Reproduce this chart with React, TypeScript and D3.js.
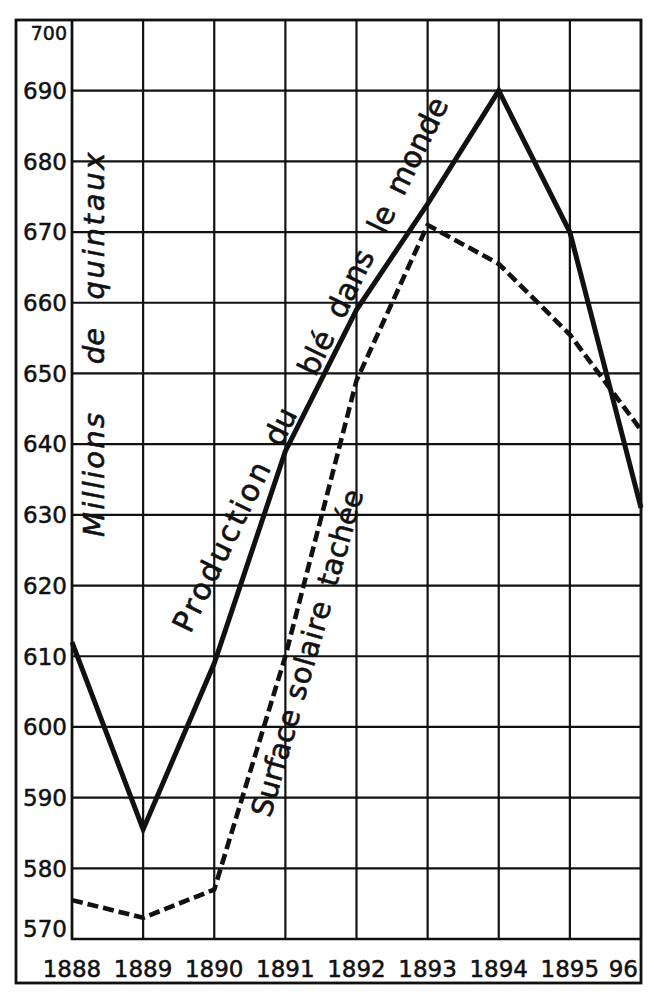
import { useRef, useEffect } from 'react';
import * as d3 from 'd3';

// years on the x axis and the labels printed under them
const years = [1888, 1889, 1890, 1891, 1892, 1893, 1894, 1895, 1896];
const yearLabels = ['1888', '1889', '1890', '1891', '1892', '1893', '1894', '1895', '96'];

// millions de quintaux
const production = [612, 585.5, 609, 639, 659, 674, 690, 670, 631];
// surface solaire tachée (same scale on the chart)
const sunspots = [575.5, 573, 577, 610, 649, 671, 665.5, 655.5, 642];

const yTicks = [570, 580, 590, 600, 610, 620, 630, 640, 650, 660, 670, 680, 690, 700];

const productionWords = ['Production', 'du', 'blé', 'dans', 'le', 'monde'];
const sunspotWords = ['Surface', 'solaire', 'tachée'];
const axisWords = ['Millions', 'de', 'quintaux'];

const FONT = '"DejaVu Sans", "Liberation Sans", sans-serif';
const INK = '#111';

export default function App() {
  const svgRef = useRef<SVGSVGElement | null>(null);

  useEffect(() => {
    const width = 654;
    const height = 1000;
    const frame = { left: 16, top: 20, right: 641, bottom: 983 };
    const plot = { left: 72, top: 20, right: 641, bottom: 939 };

    const svg = d3.select(svgRef.current);
    svg.selectAll('*').remove();
    svg.attr('width', width).attr('height', height);

    svg.append('rect')
      .attr('width', width)
      .attr('height', height)
      .attr('fill', '#fff');

    const x = d3.scaleLinear().domain([1888, 1896]).range([plot.left, plot.right]);
    const y = d3.scaleLinear().domain([570, 700]).range([plot.bottom, plot.top]);

    // -----------------------------
    // grid
    const grid = svg.append('g')
      .attr('stroke', INK)
      .attr('stroke-width', 2.2);

    grid.selectAll('line.v')
      .data(years)
      .join('line')
      .attr('class', 'v')
      .attr('x1', d => x(d))
      .attr('x2', d => x(d))
      .attr('y1', plot.top)
      .attr('y2', plot.bottom);

    grid.selectAll('line.h')
      .data(yTicks)
      .join('line')
      .attr('class', 'h')
      .attr('x1', plot.left)
      .attr('x2', plot.right)
      .attr('y1', d => y(d))
      .attr('y2', d => y(d));

    // plot axes (a little heavier)
    svg.append('path')
      .attr('d', `M${plot.left},${plot.top}V${plot.bottom}H${plot.right}`)
      .attr('fill', 'none')
      .attr('stroke', INK)
      .attr('stroke-width', 2.6);

    // outer frame
    svg.append('rect')
      .attr('x', frame.left)
      .attr('y', frame.top)
      .attr('width', frame.right - frame.left)
      .attr('height', frame.bottom - frame.top)
      .attr('fill', 'none')
      .attr('stroke', INK)
      .attr('stroke-width', 2.8);

    // -----------------------------
    // tick labels
    svg.append('g')
      .selectAll('text')
      .data(yTicks)
      .join('text')
      .attr('x', plot.left - 5)
      .attr('y', d => Math.min(Math.max(y(d), 33), 929))
      .attr('dy', '0.36em')
      .attr('text-anchor', 'end')
      .attr('font-family', FONT)
      .attr('font-size', d => (d === 700 ? 19 : 23))
      .attr('fill', INK)
      .attr('stroke', INK)
      .attr('stroke-width', 0.5)
      .text(d => d);

    svg.append('g')
      .selectAll('text')
      .data(years)
      .join('text')
      .attr('x', (d, i) => (i === years.length - 1 ? x(d) - 3 : x(d)))
      .attr('y', 977)
      .attr('text-anchor', (d, i) => (i === years.length - 1 ? 'end' : 'middle'))
      .attr('font-family', FONT)
      .attr('font-size', 23)
      .attr('fill', INK)
      .attr('stroke', INK)
      .attr('stroke-width', 0.5)
      .text((d, i) => yearLabels[i]);

    // -----------------------------
    // the two curves
    const line = d3.line<number>()
      .x((d, i) => x(years[i]))
      .y(d => y(d));

    svg.append('path')
      .datum(sunspots)
      .attr('d', line)
      .attr('fill', 'none')
      .attr('stroke', INK)
      .attr('stroke-width', 4.6)
      .attr('stroke-dasharray', '11,5')
      .attr('stroke-linejoin', 'round');

    svg.append('path')
      .datum(production)
      .attr('d', line)
      .attr('fill', 'none')
      .attr('stroke', INK)
      .attr('stroke-width', 5)
      .attr('stroke-linejoin', 'miter')
      .attr('stroke-miterlimit', 10);

    // -----------------------------
    // words written along a slanted baseline; a word is only spread out
    // when it is shorter than the room it takes in the original
    const writeAlong = (
      words: string[],
      centers: number[],
      lengths: number[],
      ox: number,
      oy: number,
      angle: number,
      size: number,
      italic: boolean,
    ) => {
      const g = svg.append('g')
        .attr('transform', `translate(${ox},${oy}) rotate(${angle})`);
      g.selectAll('text')
        .data(words)
        .join('text')
        .attr('x', (d, i) => centers[i])
        .attr('y', 0)
        .attr('text-anchor', 'middle')
        .attr('font-family', FONT)
        .attr('font-style', italic ? 'italic' : 'normal')
        .attr('font-size', size)
        .attr('fill', INK)
        .attr('stroke', INK)
        .attr('stroke-width', 0.6)
        .text(d => d)
        .each(function (d, i) {
          const natural = (this as SVGTextElement).getComputedTextLength();
          if (natural < lengths[i]) {
            d3.select(this)
              .attr('textLength', lengths[i])
              .attr('lengthAdjust', 'spacing');
          }
        });
    };

    writeAlong(axisWords, [62, 191, 311], [124, 33, 147], 104, 537, -90, 29, true);
    writeAlong(productionWords, [93, 227, 309, 386, 458, 539], [185, 27, 41, 60, 20, 101], 190, 635, -64, 30, false);
    writeAlong(sunspotWords, [60, 177, 294], [106, 101, 85], 269, 823, -74, 29, false);
  }, []);

  return <svg ref={svgRef} style={{ position: 'absolute', left: 0, top: 0 }}></svg>;
}
